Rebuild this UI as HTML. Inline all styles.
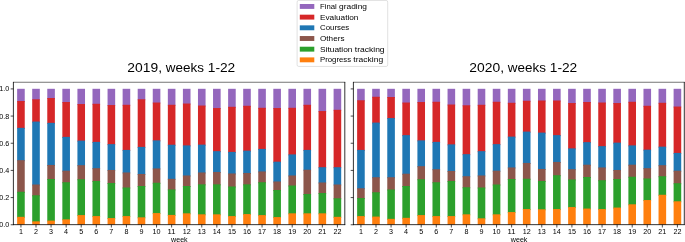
<!DOCTYPE html>
<html><head><meta charset="utf-8"><title>chart</title>
<style>
html,body{margin:0;padding:0;background:#fff;}
body{width:685px;height:242px;overflow:hidden;}
svg{display:block;font-family:"Liberation Sans",sans-serif;will-change:transform;opacity:0.999;}
text{fill:#000;}
</style></head><body>
<svg width="685" height="242" viewBox="0 0 685 242">
<rect x="0" y="0" width="685" height="242" fill="#ffffff"/>
<rect x="17.14" y="88.80" width="7.6" height="13.23" fill="#9467bd"/>
<rect x="17.14" y="101.03" width="7.6" height="27.82" fill="#d62728"/>
<rect x="17.14" y="127.85" width="7.6" height="33.33" fill="#1f77b4"/>
<rect x="17.14" y="160.18" width="7.6" height="32.58" fill="#8c564b"/>
<rect x="17.14" y="191.77" width="7.6" height="26.06" fill="#2ca02c"/>
<rect x="17.14" y="216.83" width="7.6" height="7.82" fill="#ff7f0e"/>
<line x1="20.94" y1="224.65" x2="20.94" y2="227.5" stroke="#000" stroke-width="0.7"/>
<text x="18.93" y="234.20" font-size="7.0" textLength="4.01" lengthAdjust="spacingAndGlyphs">1</text>
<rect x="32.21" y="88.80" width="7.6" height="11.48" fill="#9467bd"/>
<rect x="32.21" y="99.28" width="7.6" height="23.31" fill="#d62728"/>
<rect x="32.21" y="121.58" width="7.6" height="63.91" fill="#1f77b4"/>
<rect x="32.21" y="184.50" width="7.6" height="11.78" fill="#8c564b"/>
<rect x="32.21" y="195.27" width="7.6" height="27.07" fill="#2ca02c"/>
<rect x="32.21" y="221.34" width="7.6" height="3.31" fill="#ff7f0e"/>
<line x1="36.01" y1="224.65" x2="36.01" y2="227.5" stroke="#000" stroke-width="0.7"/>
<text x="34.00" y="234.20" font-size="7.0" textLength="4.01" lengthAdjust="spacingAndGlyphs">2</text>
<rect x="47.27" y="88.80" width="7.6" height="10.22" fill="#9467bd"/>
<rect x="47.27" y="98.02" width="7.6" height="25.81" fill="#d62728"/>
<rect x="47.27" y="122.84" width="7.6" height="43.11" fill="#1f77b4"/>
<rect x="47.27" y="164.95" width="7.6" height="15.04" fill="#8c564b"/>
<rect x="47.27" y="178.98" width="7.6" height="42.61" fill="#2ca02c"/>
<rect x="47.27" y="220.59" width="7.6" height="4.06" fill="#ff7f0e"/>
<line x1="51.07" y1="224.65" x2="51.07" y2="227.5" stroke="#000" stroke-width="0.7"/>
<text x="49.07" y="234.20" font-size="7.0" textLength="4.01" lengthAdjust="spacingAndGlyphs">3</text>
<rect x="62.35" y="88.80" width="7.6" height="14.23" fill="#9467bd"/>
<rect x="62.35" y="102.03" width="7.6" height="35.84" fill="#d62728"/>
<rect x="62.35" y="136.87" width="7.6" height="34.84" fill="#1f77b4"/>
<rect x="62.35" y="170.71" width="7.6" height="12.53" fill="#8c564b"/>
<rect x="62.35" y="182.24" width="7.6" height="38.10" fill="#2ca02c"/>
<rect x="62.35" y="219.34" width="7.6" height="5.31" fill="#ff7f0e"/>
<line x1="66.15" y1="224.65" x2="66.15" y2="227.5" stroke="#000" stroke-width="0.7"/>
<text x="64.14" y="234.20" font-size="7.0" textLength="4.01" lengthAdjust="spacingAndGlyphs">4</text>
<rect x="77.42" y="88.80" width="7.6" height="16.24" fill="#9467bd"/>
<rect x="77.42" y="104.04" width="7.6" height="37.59" fill="#d62728"/>
<rect x="77.42" y="140.63" width="7.6" height="25.56" fill="#1f77b4"/>
<rect x="77.42" y="165.20" width="7.6" height="15.04" fill="#8c564b"/>
<rect x="77.42" y="179.23" width="7.6" height="36.84" fill="#2ca02c"/>
<rect x="77.42" y="215.08" width="7.6" height="9.57" fill="#ff7f0e"/>
<line x1="81.22" y1="224.65" x2="81.22" y2="227.5" stroke="#000" stroke-width="0.7"/>
<text x="79.21" y="234.20" font-size="7.0" textLength="4.01" lengthAdjust="spacingAndGlyphs">5</text>
<rect x="92.49" y="88.80" width="7.6" height="15.99" fill="#9467bd"/>
<rect x="92.49" y="103.79" width="7.6" height="39.10" fill="#d62728"/>
<rect x="92.49" y="141.89" width="7.6" height="27.32" fill="#1f77b4"/>
<rect x="92.49" y="168.20" width="7.6" height="13.78" fill="#8c564b"/>
<rect x="92.49" y="180.99" width="7.6" height="36.09" fill="#2ca02c"/>
<rect x="92.49" y="216.08" width="7.6" height="8.57" fill="#ff7f0e"/>
<line x1="96.29" y1="224.65" x2="96.29" y2="227.5" stroke="#000" stroke-width="0.7"/>
<text x="94.28" y="234.20" font-size="7.0" textLength="4.01" lengthAdjust="spacingAndGlyphs">6</text>
<rect x="107.56" y="88.80" width="7.6" height="17.24" fill="#9467bd"/>
<rect x="107.56" y="105.04" width="7.6" height="40.10" fill="#d62728"/>
<rect x="107.56" y="144.14" width="7.6" height="26.82" fill="#1f77b4"/>
<rect x="107.56" y="169.96" width="7.6" height="14.03" fill="#8c564b"/>
<rect x="107.56" y="182.99" width="7.6" height="36.09" fill="#2ca02c"/>
<rect x="107.56" y="218.08" width="7.6" height="6.57" fill="#ff7f0e"/>
<line x1="111.36" y1="224.65" x2="111.36" y2="227.5" stroke="#000" stroke-width="0.7"/>
<text x="109.35" y="234.20" font-size="7.0" textLength="4.01" lengthAdjust="spacingAndGlyphs">7</text>
<rect x="122.63" y="88.80" width="7.6" height="16.99" fill="#9467bd"/>
<rect x="122.63" y="104.79" width="7.6" height="46.12" fill="#d62728"/>
<rect x="122.63" y="149.91" width="7.6" height="23.56" fill="#1f77b4"/>
<rect x="122.63" y="172.47" width="7.6" height="16.04" fill="#8c564b"/>
<rect x="122.63" y="187.50" width="7.6" height="29.57" fill="#2ca02c"/>
<rect x="122.63" y="216.08" width="7.6" height="8.57" fill="#ff7f0e"/>
<line x1="126.43" y1="224.65" x2="126.43" y2="227.5" stroke="#000" stroke-width="0.7"/>
<text x="124.42" y="234.20" font-size="7.0" textLength="4.01" lengthAdjust="spacingAndGlyphs">8</text>
<rect x="137.69" y="88.80" width="7.6" height="11.48" fill="#9467bd"/>
<rect x="137.69" y="99.28" width="7.6" height="48.62" fill="#d62728"/>
<rect x="137.69" y="146.90" width="7.6" height="28.07" fill="#1f77b4"/>
<rect x="137.69" y="173.97" width="7.6" height="13.03" fill="#8c564b"/>
<rect x="137.69" y="186.00" width="7.6" height="32.33" fill="#2ca02c"/>
<rect x="137.69" y="217.33" width="7.6" height="7.32" fill="#ff7f0e"/>
<line x1="141.50" y1="224.65" x2="141.50" y2="227.5" stroke="#000" stroke-width="0.7"/>
<text x="139.49" y="234.20" font-size="7.0" textLength="4.01" lengthAdjust="spacingAndGlyphs">9</text>
<rect x="152.76" y="88.80" width="7.6" height="14.74" fill="#9467bd"/>
<rect x="152.76" y="102.54" width="7.6" height="38.85" fill="#d62728"/>
<rect x="152.76" y="140.38" width="7.6" height="29.07" fill="#1f77b4"/>
<rect x="152.76" y="168.46" width="7.6" height="15.29" fill="#8c564b"/>
<rect x="152.76" y="182.74" width="7.6" height="31.33" fill="#2ca02c"/>
<rect x="152.76" y="213.07" width="7.6" height="11.58" fill="#ff7f0e"/>
<line x1="156.56" y1="224.65" x2="156.56" y2="227.5" stroke="#000" stroke-width="0.7"/>
<text x="152.56" y="234.20" font-size="7.0" textLength="8.02" lengthAdjust="spacingAndGlyphs">10</text>
<rect x="167.84" y="88.80" width="7.6" height="16.99" fill="#9467bd"/>
<rect x="167.84" y="104.79" width="7.6" height="40.95" fill="#d62728"/>
<rect x="167.84" y="144.74" width="7.6" height="35.09" fill="#1f77b4"/>
<rect x="167.84" y="178.83" width="7.6" height="11.63" fill="#8c564b"/>
<rect x="167.84" y="189.46" width="7.6" height="26.47" fill="#2ca02c"/>
<rect x="167.84" y="214.92" width="7.6" height="9.73" fill="#ff7f0e"/>
<line x1="171.64" y1="224.65" x2="171.64" y2="227.5" stroke="#000" stroke-width="0.7"/>
<text x="167.63" y="234.20" font-size="7.0" textLength="8.02" lengthAdjust="spacingAndGlyphs">11</text>
<rect x="182.91" y="88.80" width="7.6" height="15.74" fill="#9467bd"/>
<rect x="182.91" y="103.54" width="7.6" height="42.86" fill="#d62728"/>
<rect x="182.91" y="145.40" width="7.6" height="31.08" fill="#1f77b4"/>
<rect x="182.91" y="175.47" width="7.6" height="11.53" fill="#8c564b"/>
<rect x="182.91" y="186.00" width="7.6" height="28.32" fill="#2ca02c"/>
<rect x="182.91" y="213.32" width="7.6" height="11.33" fill="#ff7f0e"/>
<line x1="186.71" y1="224.65" x2="186.71" y2="227.5" stroke="#000" stroke-width="0.7"/>
<text x="182.70" y="234.20" font-size="7.0" textLength="8.02" lengthAdjust="spacingAndGlyphs">12</text>
<rect x="197.97" y="88.80" width="7.6" height="17.74" fill="#9467bd"/>
<rect x="197.97" y="105.54" width="7.6" height="40.10" fill="#d62728"/>
<rect x="197.97" y="144.64" width="7.6" height="28.82" fill="#1f77b4"/>
<rect x="197.97" y="172.47" width="7.6" height="12.88" fill="#8c564b"/>
<rect x="197.97" y="184.35" width="7.6" height="30.98" fill="#2ca02c"/>
<rect x="197.97" y="214.32" width="7.6" height="10.33" fill="#ff7f0e"/>
<line x1="201.78" y1="224.65" x2="201.78" y2="227.5" stroke="#000" stroke-width="0.7"/>
<text x="197.77" y="234.20" font-size="7.0" textLength="8.02" lengthAdjust="spacingAndGlyphs">13</text>
<rect x="213.04" y="88.80" width="7.6" height="20.25" fill="#9467bd"/>
<rect x="213.04" y="108.05" width="7.6" height="44.11" fill="#d62728"/>
<rect x="213.04" y="151.16" width="7.6" height="21.80" fill="#1f77b4"/>
<rect x="213.04" y="171.96" width="7.6" height="13.38" fill="#8c564b"/>
<rect x="213.04" y="184.35" width="7.6" height="30.98" fill="#2ca02c"/>
<rect x="213.04" y="214.32" width="7.6" height="10.33" fill="#ff7f0e"/>
<line x1="216.84" y1="224.65" x2="216.84" y2="227.5" stroke="#000" stroke-width="0.7"/>
<text x="212.84" y="234.20" font-size="7.0" textLength="8.02" lengthAdjust="spacingAndGlyphs">14</text>
<rect x="228.12" y="88.80" width="7.6" height="19.00" fill="#9467bd"/>
<rect x="228.12" y="106.80" width="7.6" height="46.12" fill="#d62728"/>
<rect x="228.12" y="151.91" width="7.6" height="22.56" fill="#1f77b4"/>
<rect x="228.12" y="173.47" width="7.6" height="14.03" fill="#8c564b"/>
<rect x="228.12" y="186.50" width="7.6" height="30.58" fill="#2ca02c"/>
<rect x="228.12" y="216.08" width="7.6" height="8.57" fill="#ff7f0e"/>
<line x1="231.92" y1="224.65" x2="231.92" y2="227.5" stroke="#000" stroke-width="0.7"/>
<text x="227.91" y="234.20" font-size="7.0" textLength="8.02" lengthAdjust="spacingAndGlyphs">15</text>
<rect x="243.19" y="88.80" width="7.6" height="17.99" fill="#9467bd"/>
<rect x="243.19" y="105.79" width="7.6" height="45.87" fill="#d62728"/>
<rect x="243.19" y="150.66" width="7.6" height="23.31" fill="#1f77b4"/>
<rect x="243.19" y="172.97" width="7.6" height="12.38" fill="#8c564b"/>
<rect x="243.19" y="184.35" width="7.6" height="30.73" fill="#2ca02c"/>
<rect x="243.19" y="214.07" width="7.6" height="10.58" fill="#ff7f0e"/>
<line x1="246.99" y1="224.65" x2="246.99" y2="227.5" stroke="#000" stroke-width="0.7"/>
<text x="242.98" y="234.20" font-size="7.0" textLength="8.02" lengthAdjust="spacingAndGlyphs">16</text>
<rect x="258.25" y="88.80" width="7.6" height="20.00" fill="#9467bd"/>
<rect x="258.25" y="107.80" width="7.6" height="42.11" fill="#d62728"/>
<rect x="258.25" y="148.90" width="7.6" height="23.56" fill="#1f77b4"/>
<rect x="258.25" y="171.46" width="7.6" height="11.78" fill="#8c564b"/>
<rect x="258.25" y="182.24" width="7.6" height="33.83" fill="#2ca02c"/>
<rect x="258.25" y="215.08" width="7.6" height="9.57" fill="#ff7f0e"/>
<line x1="262.06" y1="224.65" x2="262.06" y2="227.5" stroke="#000" stroke-width="0.7"/>
<text x="258.05" y="234.20" font-size="7.0" textLength="8.02" lengthAdjust="spacingAndGlyphs">17</text>
<rect x="273.32" y="88.80" width="7.6" height="20.25" fill="#9467bd"/>
<rect x="273.32" y="108.05" width="7.6" height="54.64" fill="#d62728"/>
<rect x="273.32" y="161.69" width="7.6" height="20.80" fill="#1f77b4"/>
<rect x="273.32" y="181.49" width="7.6" height="9.52" fill="#8c564b"/>
<rect x="273.32" y="190.01" width="7.6" height="28.07" fill="#2ca02c"/>
<rect x="273.32" y="217.08" width="7.6" height="7.57" fill="#ff7f0e"/>
<line x1="277.12" y1="224.65" x2="277.12" y2="227.5" stroke="#000" stroke-width="0.7"/>
<text x="273.12" y="234.20" font-size="7.0" textLength="8.02" lengthAdjust="spacingAndGlyphs">18</text>
<rect x="288.39" y="88.80" width="7.6" height="20.00" fill="#9467bd"/>
<rect x="288.39" y="107.80" width="7.6" height="47.62" fill="#d62728"/>
<rect x="288.39" y="154.42" width="7.6" height="22.05" fill="#1f77b4"/>
<rect x="288.39" y="175.47" width="7.6" height="11.03" fill="#8c564b"/>
<rect x="288.39" y="185.50" width="7.6" height="28.82" fill="#2ca02c"/>
<rect x="288.39" y="213.32" width="7.6" height="11.33" fill="#ff7f0e"/>
<line x1="292.19" y1="224.65" x2="292.19" y2="227.5" stroke="#000" stroke-width="0.7"/>
<text x="288.19" y="234.20" font-size="7.0" textLength="8.02" lengthAdjust="spacingAndGlyphs">19</text>
<rect x="303.46" y="88.80" width="7.6" height="16.99" fill="#9467bd"/>
<rect x="303.46" y="104.79" width="7.6" height="46.12" fill="#d62728"/>
<rect x="303.46" y="149.91" width="7.6" height="20.80" fill="#1f77b4"/>
<rect x="303.46" y="169.71" width="7.6" height="25.31" fill="#8c564b"/>
<rect x="303.46" y="194.02" width="7.6" height="20.30" fill="#2ca02c"/>
<rect x="303.46" y="213.32" width="7.6" height="11.33" fill="#ff7f0e"/>
<line x1="307.26" y1="224.65" x2="307.26" y2="227.5" stroke="#000" stroke-width="0.7"/>
<text x="303.26" y="234.20" font-size="7.0" textLength="8.02" lengthAdjust="spacingAndGlyphs">20</text>
<rect x="318.53" y="88.80" width="7.6" height="23.26" fill="#9467bd"/>
<rect x="318.53" y="111.06" width="7.6" height="57.14" fill="#d62728"/>
<rect x="318.53" y="167.20" width="7.6" height="16.29" fill="#1f77b4"/>
<rect x="318.53" y="182.49" width="7.6" height="11.53" fill="#8c564b"/>
<rect x="318.53" y="193.02" width="7.6" height="21.30" fill="#2ca02c"/>
<rect x="318.53" y="213.32" width="7.6" height="11.33" fill="#ff7f0e"/>
<line x1="322.33" y1="224.65" x2="322.33" y2="227.5" stroke="#000" stroke-width="0.7"/>
<text x="318.33" y="234.20" font-size="7.0" textLength="8.02" lengthAdjust="spacingAndGlyphs">21</text>
<rect x="333.60" y="88.80" width="7.6" height="22.00" fill="#9467bd"/>
<rect x="333.60" y="109.80" width="7.6" height="58.40" fill="#d62728"/>
<rect x="333.60" y="167.20" width="7.6" height="18.29" fill="#1f77b4"/>
<rect x="333.60" y="184.50" width="7.6" height="14.79" fill="#8c564b"/>
<rect x="333.60" y="198.28" width="7.6" height="19.55" fill="#2ca02c"/>
<rect x="333.60" y="216.83" width="7.6" height="7.82" fill="#ff7f0e"/>
<line x1="337.40" y1="224.65" x2="337.40" y2="227.5" stroke="#000" stroke-width="0.7"/>
<text x="333.40" y="234.20" font-size="7.0" textLength="8.02" lengthAdjust="spacingAndGlyphs">22</text>
<line x1="10.7" y1="224.75" x2="13.4" y2="224.75" stroke="#000" stroke-width="0.7"/>
<text x="-0.72" y="227.25" font-size="7.0" textLength="10.02" lengthAdjust="spacingAndGlyphs">0.0</text>
<line x1="10.7" y1="197.58" x2="13.4" y2="197.58" stroke="#000" stroke-width="0.7"/>
<text x="-0.72" y="200.08" font-size="7.0" textLength="10.02" lengthAdjust="spacingAndGlyphs">0.2</text>
<line x1="10.7" y1="170.41" x2="13.4" y2="170.41" stroke="#000" stroke-width="0.7"/>
<text x="-0.72" y="172.91" font-size="7.0" textLength="10.02" lengthAdjust="spacingAndGlyphs">0.4</text>
<line x1="10.7" y1="143.24" x2="13.4" y2="143.24" stroke="#000" stroke-width="0.7"/>
<text x="-0.72" y="145.74" font-size="7.0" textLength="10.02" lengthAdjust="spacingAndGlyphs">0.6</text>
<line x1="10.7" y1="116.07" x2="13.4" y2="116.07" stroke="#000" stroke-width="0.7"/>
<text x="-0.72" y="118.57" font-size="7.0" textLength="10.02" lengthAdjust="spacingAndGlyphs">0.8</text>
<line x1="10.7" y1="88.90" x2="13.4" y2="88.90" stroke="#000" stroke-width="0.7"/>
<text x="-0.72" y="91.40" font-size="7.0" textLength="10.02" lengthAdjust="spacingAndGlyphs">1.0</text>
<line x1="13.0" y1="82.25" x2="345.2" y2="82.25" stroke="#000" stroke-width="0.55"/>
<line x1="13.0" y1="224.65" x2="345.2" y2="224.65" stroke="#000" stroke-width="0.8"/>
<line x1="13.4" y1="81.98" x2="13.4" y2="225.05" stroke="#000" stroke-width="0.8"/>
<line x1="344.8" y1="81.98" x2="344.8" y2="225.05" stroke="#000" stroke-width="0.8"/>
<text x="127.35" y="71.90" font-size="12.6" textLength="34.64" lengthAdjust="spacingAndGlyphs">2019,</text><text x="165.84" y="71.90" font-size="12.6" textLength="38.10" lengthAdjust="spacingAndGlyphs">weeks</text><text x="207.78" y="71.90" font-size="12.6" textLength="27.46" lengthAdjust="spacingAndGlyphs">1-22</text>
<text x="171.12" y="241.50" font-size="7.0" textLength="16.55" lengthAdjust="spacingAndGlyphs">week</text>
<rect x="357.13" y="88.80" width="7.6" height="12.48" fill="#9467bd"/>
<rect x="357.13" y="100.28" width="7.6" height="50.63" fill="#d62728"/>
<rect x="357.13" y="149.91" width="7.6" height="39.35" fill="#1f77b4"/>
<rect x="357.13" y="188.26" width="7.6" height="10.78" fill="#8c564b"/>
<rect x="357.13" y="198.03" width="7.6" height="19.05" fill="#2ca02c"/>
<rect x="357.13" y="216.08" width="7.6" height="8.57" fill="#ff7f0e"/>
<line x1="360.94" y1="224.65" x2="360.94" y2="227.5" stroke="#000" stroke-width="0.7"/>
<text x="358.93" y="234.20" font-size="7.0" textLength="4.01" lengthAdjust="spacingAndGlyphs">1</text>
<rect x="372.20" y="88.80" width="7.6" height="8.97" fill="#9467bd"/>
<rect x="372.20" y="96.77" width="7.6" height="26.82" fill="#d62728"/>
<rect x="372.20" y="122.59" width="7.6" height="55.64" fill="#1f77b4"/>
<rect x="372.20" y="177.23" width="7.6" height="16.04" fill="#8c564b"/>
<rect x="372.20" y="192.27" width="7.6" height="25.31" fill="#2ca02c"/>
<rect x="372.20" y="216.58" width="7.6" height="8.07" fill="#ff7f0e"/>
<line x1="376.00" y1="224.65" x2="376.00" y2="227.5" stroke="#000" stroke-width="0.7"/>
<text x="374.00" y="234.20" font-size="7.0" textLength="4.01" lengthAdjust="spacingAndGlyphs">2</text>
<rect x="387.27" y="88.80" width="7.6" height="9.22" fill="#9467bd"/>
<rect x="387.27" y="97.02" width="7.6" height="22.05" fill="#d62728"/>
<rect x="387.27" y="118.08" width="7.6" height="60.15" fill="#1f77b4"/>
<rect x="387.27" y="177.23" width="7.6" height="13.28" fill="#8c564b"/>
<rect x="387.27" y="189.51" width="7.6" height="30.33" fill="#2ca02c"/>
<rect x="387.27" y="218.84" width="7.6" height="5.81" fill="#ff7f0e"/>
<line x1="391.07" y1="224.65" x2="391.07" y2="227.5" stroke="#000" stroke-width="0.7"/>
<text x="389.07" y="234.20" font-size="7.0" textLength="4.01" lengthAdjust="spacingAndGlyphs">3</text>
<rect x="402.34" y="88.80" width="7.6" height="14.74" fill="#9467bd"/>
<rect x="402.34" y="102.54" width="7.6" height="33.58" fill="#d62728"/>
<rect x="402.34" y="135.12" width="7.6" height="39.60" fill="#1f77b4"/>
<rect x="402.34" y="173.72" width="7.6" height="13.28" fill="#8c564b"/>
<rect x="402.34" y="186.00" width="7.6" height="32.83" fill="#2ca02c"/>
<rect x="402.34" y="217.83" width="7.6" height="6.82" fill="#ff7f0e"/>
<line x1="406.14" y1="224.65" x2="406.14" y2="227.5" stroke="#000" stroke-width="0.7"/>
<text x="404.14" y="234.20" font-size="7.0" textLength="4.01" lengthAdjust="spacingAndGlyphs">4</text>
<rect x="417.41" y="88.80" width="7.6" height="14.23" fill="#9467bd"/>
<rect x="417.41" y="102.03" width="7.6" height="39.35" fill="#d62728"/>
<rect x="417.41" y="140.38" width="7.6" height="26.82" fill="#1f77b4"/>
<rect x="417.41" y="166.20" width="7.6" height="14.03" fill="#8c564b"/>
<rect x="417.41" y="179.23" width="7.6" height="36.84" fill="#2ca02c"/>
<rect x="417.41" y="215.08" width="7.6" height="9.57" fill="#ff7f0e"/>
<line x1="421.21" y1="224.65" x2="421.21" y2="227.5" stroke="#000" stroke-width="0.7"/>
<text x="419.21" y="234.20" font-size="7.0" textLength="4.01" lengthAdjust="spacingAndGlyphs">5</text>
<rect x="432.48" y="88.80" width="7.6" height="13.98" fill="#9467bd"/>
<rect x="432.48" y="101.78" width="7.6" height="41.10" fill="#d62728"/>
<rect x="432.48" y="141.89" width="7.6" height="28.32" fill="#1f77b4"/>
<rect x="432.48" y="169.21" width="7.6" height="14.03" fill="#8c564b"/>
<rect x="432.48" y="182.24" width="7.6" height="34.84" fill="#2ca02c"/>
<rect x="432.48" y="216.08" width="7.6" height="8.57" fill="#ff7f0e"/>
<line x1="436.28" y1="224.65" x2="436.28" y2="227.5" stroke="#000" stroke-width="0.7"/>
<text x="434.28" y="234.20" font-size="7.0" textLength="4.01" lengthAdjust="spacingAndGlyphs">6</text>
<rect x="447.55" y="88.80" width="7.6" height="16.74" fill="#9467bd"/>
<rect x="447.55" y="104.54" width="7.6" height="40.85" fill="#d62728"/>
<rect x="447.55" y="144.39" width="7.6" height="27.57" fill="#1f77b4"/>
<rect x="447.55" y="170.96" width="7.6" height="11.03" fill="#8c564b"/>
<rect x="447.55" y="180.99" width="7.6" height="36.09" fill="#2ca02c"/>
<rect x="447.55" y="216.08" width="7.6" height="8.57" fill="#ff7f0e"/>
<line x1="451.35" y1="224.65" x2="451.35" y2="227.5" stroke="#000" stroke-width="0.7"/>
<text x="449.35" y="234.20" font-size="7.0" textLength="4.01" lengthAdjust="spacingAndGlyphs">7</text>
<rect x="462.62" y="88.80" width="7.6" height="17.49" fill="#9467bd"/>
<rect x="462.62" y="105.29" width="7.6" height="49.88" fill="#d62728"/>
<rect x="462.62" y="154.17" width="7.6" height="23.06" fill="#1f77b4"/>
<rect x="462.62" y="176.23" width="7.6" height="12.03" fill="#8c564b"/>
<rect x="462.62" y="187.25" width="7.6" height="28.07" fill="#2ca02c"/>
<rect x="462.62" y="214.32" width="7.6" height="10.33" fill="#ff7f0e"/>
<line x1="466.42" y1="224.65" x2="466.42" y2="227.5" stroke="#000" stroke-width="0.7"/>
<text x="464.42" y="234.20" font-size="7.0" textLength="4.01" lengthAdjust="spacingAndGlyphs">8</text>
<rect x="477.69" y="88.80" width="7.6" height="16.99" fill="#9467bd"/>
<rect x="477.69" y="104.79" width="7.6" height="47.37" fill="#d62728"/>
<rect x="477.69" y="151.16" width="7.6" height="25.31" fill="#1f77b4"/>
<rect x="477.69" y="175.47" width="7.6" height="13.03" fill="#8c564b"/>
<rect x="477.69" y="187.50" width="7.6" height="31.83" fill="#2ca02c"/>
<rect x="477.69" y="218.33" width="7.6" height="6.32" fill="#ff7f0e"/>
<line x1="481.50" y1="224.65" x2="481.50" y2="227.5" stroke="#000" stroke-width="0.7"/>
<text x="479.49" y="234.20" font-size="7.0" textLength="4.01" lengthAdjust="spacingAndGlyphs">9</text>
<rect x="492.76" y="88.80" width="7.6" height="13.98" fill="#9467bd"/>
<rect x="492.76" y="101.78" width="7.6" height="43.36" fill="#d62728"/>
<rect x="492.76" y="144.14" width="7.6" height="27.57" fill="#1f77b4"/>
<rect x="492.76" y="170.71" width="7.6" height="14.79" fill="#8c564b"/>
<rect x="492.76" y="184.50" width="7.6" height="30.83" fill="#2ca02c"/>
<rect x="492.76" y="214.32" width="7.6" height="10.33" fill="#ff7f0e"/>
<line x1="496.56" y1="224.65" x2="496.56" y2="227.5" stroke="#000" stroke-width="0.7"/>
<text x="492.56" y="234.20" font-size="7.0" textLength="8.02" lengthAdjust="spacingAndGlyphs">10</text>
<rect x="507.83" y="88.80" width="7.6" height="14.99" fill="#9467bd"/>
<rect x="507.83" y="102.79" width="7.6" height="34.84" fill="#d62728"/>
<rect x="507.83" y="136.62" width="7.6" height="31.83" fill="#1f77b4"/>
<rect x="507.83" y="167.45" width="7.6" height="12.53" fill="#8c564b"/>
<rect x="507.83" y="178.98" width="7.6" height="34.09" fill="#2ca02c"/>
<rect x="507.83" y="212.07" width="7.6" height="12.58" fill="#ff7f0e"/>
<line x1="511.63" y1="224.65" x2="511.63" y2="227.5" stroke="#000" stroke-width="0.7"/>
<text x="507.63" y="234.20" font-size="7.0" textLength="8.02" lengthAdjust="spacingAndGlyphs">11</text>
<rect x="522.90" y="88.80" width="7.6" height="12.98" fill="#9467bd"/>
<rect x="522.90" y="100.78" width="7.6" height="31.83" fill="#d62728"/>
<rect x="522.90" y="131.61" width="7.6" height="32.33" fill="#1f77b4"/>
<rect x="522.90" y="162.94" width="7.6" height="16.79" fill="#8c564b"/>
<rect x="522.90" y="178.73" width="7.6" height="31.33" fill="#2ca02c"/>
<rect x="522.90" y="209.06" width="7.6" height="15.59" fill="#ff7f0e"/>
<line x1="526.70" y1="224.65" x2="526.70" y2="227.5" stroke="#000" stroke-width="0.7"/>
<text x="522.70" y="234.20" font-size="7.0" textLength="8.02" lengthAdjust="spacingAndGlyphs">12</text>
<rect x="537.98" y="88.80" width="7.6" height="12.73" fill="#9467bd"/>
<rect x="537.98" y="100.53" width="7.6" height="33.08" fill="#d62728"/>
<rect x="537.98" y="132.61" width="7.6" height="37.34" fill="#1f77b4"/>
<rect x="537.98" y="168.96" width="7.6" height="13.03" fill="#8c564b"/>
<rect x="537.98" y="180.99" width="7.6" height="29.32" fill="#2ca02c"/>
<rect x="537.98" y="209.31" width="7.6" height="15.34" fill="#ff7f0e"/>
<line x1="541.77" y1="224.65" x2="541.77" y2="227.5" stroke="#000" stroke-width="0.7"/>
<text x="537.77" y="234.20" font-size="7.0" textLength="8.02" lengthAdjust="spacingAndGlyphs">13</text>
<rect x="553.05" y="88.80" width="7.6" height="12.73" fill="#9467bd"/>
<rect x="553.05" y="100.53" width="7.6" height="35.59" fill="#d62728"/>
<rect x="553.05" y="135.12" width="7.6" height="27.82" fill="#1f77b4"/>
<rect x="553.05" y="161.94" width="7.6" height="14.28" fill="#8c564b"/>
<rect x="553.05" y="175.22" width="7.6" height="34.84" fill="#2ca02c"/>
<rect x="553.05" y="209.06" width="7.6" height="15.59" fill="#ff7f0e"/>
<line x1="556.85" y1="224.65" x2="556.85" y2="227.5" stroke="#000" stroke-width="0.7"/>
<text x="552.84" y="234.20" font-size="7.0" textLength="8.02" lengthAdjust="spacingAndGlyphs">14</text>
<rect x="568.12" y="88.80" width="7.6" height="15.24" fill="#9467bd"/>
<rect x="568.12" y="103.04" width="7.6" height="46.37" fill="#d62728"/>
<rect x="568.12" y="148.40" width="7.6" height="21.80" fill="#1f77b4"/>
<rect x="568.12" y="169.21" width="7.6" height="11.28" fill="#8c564b"/>
<rect x="568.12" y="179.48" width="7.6" height="28.57" fill="#2ca02c"/>
<rect x="568.12" y="207.05" width="7.6" height="17.60" fill="#ff7f0e"/>
<line x1="571.91" y1="224.65" x2="571.91" y2="227.5" stroke="#000" stroke-width="0.7"/>
<text x="567.91" y="234.20" font-size="7.0" textLength="8.02" lengthAdjust="spacingAndGlyphs">15</text>
<rect x="583.19" y="88.80" width="7.6" height="14.23" fill="#9467bd"/>
<rect x="583.19" y="102.03" width="7.6" height="41.10" fill="#d62728"/>
<rect x="583.19" y="142.14" width="7.6" height="23.56" fill="#1f77b4"/>
<rect x="583.19" y="164.70" width="7.6" height="13.28" fill="#8c564b"/>
<rect x="583.19" y="176.98" width="7.6" height="32.58" fill="#2ca02c"/>
<rect x="583.19" y="208.56" width="7.6" height="16.09" fill="#ff7f0e"/>
<line x1="586.99" y1="224.65" x2="586.99" y2="227.5" stroke="#000" stroke-width="0.7"/>
<text x="582.98" y="234.20" font-size="7.0" textLength="8.02" lengthAdjust="spacingAndGlyphs">16</text>
<rect x="598.25" y="88.80" width="7.6" height="14.74" fill="#9467bd"/>
<rect x="598.25" y="102.54" width="7.6" height="44.61" fill="#d62728"/>
<rect x="598.25" y="146.15" width="7.6" height="22.30" fill="#1f77b4"/>
<rect x="598.25" y="167.45" width="7.6" height="13.78" fill="#8c564b"/>
<rect x="598.25" y="180.24" width="7.6" height="29.82" fill="#2ca02c"/>
<rect x="598.25" y="209.06" width="7.6" height="15.59" fill="#ff7f0e"/>
<line x1="602.05" y1="224.65" x2="602.05" y2="227.5" stroke="#000" stroke-width="0.7"/>
<text x="598.05" y="234.20" font-size="7.0" textLength="8.02" lengthAdjust="spacingAndGlyphs">17</text>
<rect x="613.33" y="88.80" width="7.6" height="15.24" fill="#9467bd"/>
<rect x="613.33" y="103.04" width="7.6" height="40.60" fill="#d62728"/>
<rect x="613.33" y="142.64" width="7.6" height="28.32" fill="#1f77b4"/>
<rect x="613.33" y="169.96" width="7.6" height="10.02" fill="#8c564b"/>
<rect x="613.33" y="178.98" width="7.6" height="29.57" fill="#2ca02c"/>
<rect x="613.33" y="207.56" width="7.6" height="17.09" fill="#ff7f0e"/>
<line x1="617.12" y1="224.65" x2="617.12" y2="227.5" stroke="#000" stroke-width="0.7"/>
<text x="613.12" y="234.20" font-size="7.0" textLength="8.02" lengthAdjust="spacingAndGlyphs">18</text>
<rect x="628.39" y="88.80" width="7.6" height="13.98" fill="#9467bd"/>
<rect x="628.39" y="101.78" width="7.6" height="44.61" fill="#d62728"/>
<rect x="628.39" y="145.40" width="7.6" height="20.30" fill="#1f77b4"/>
<rect x="628.39" y="164.70" width="7.6" height="13.03" fill="#8c564b"/>
<rect x="628.39" y="176.73" width="7.6" height="28.57" fill="#2ca02c"/>
<rect x="628.39" y="204.30" width="7.6" height="20.35" fill="#ff7f0e"/>
<line x1="632.19" y1="224.65" x2="632.19" y2="227.5" stroke="#000" stroke-width="0.7"/>
<text x="628.19" y="234.20" font-size="7.0" textLength="8.02" lengthAdjust="spacingAndGlyphs">19</text>
<rect x="643.47" y="88.80" width="7.6" height="17.99" fill="#9467bd"/>
<rect x="643.47" y="105.79" width="7.6" height="44.86" fill="#d62728"/>
<rect x="643.47" y="149.66" width="7.6" height="19.55" fill="#1f77b4"/>
<rect x="643.47" y="168.20" width="7.6" height="11.28" fill="#8c564b"/>
<rect x="643.47" y="178.48" width="7.6" height="22.56" fill="#2ca02c"/>
<rect x="643.47" y="200.04" width="7.6" height="24.61" fill="#ff7f0e"/>
<line x1="647.26" y1="224.65" x2="647.26" y2="227.5" stroke="#000" stroke-width="0.7"/>
<text x="643.26" y="234.20" font-size="7.0" textLength="8.02" lengthAdjust="spacingAndGlyphs">20</text>
<rect x="658.54" y="88.80" width="7.6" height="14.99" fill="#9467bd"/>
<rect x="658.54" y="102.79" width="7.6" height="44.86" fill="#d62728"/>
<rect x="658.54" y="146.65" width="7.6" height="19.55" fill="#1f77b4"/>
<rect x="658.54" y="165.20" width="7.6" height="12.03" fill="#8c564b"/>
<rect x="658.54" y="176.23" width="7.6" height="19.55" fill="#2ca02c"/>
<rect x="658.54" y="194.77" width="7.6" height="29.88" fill="#ff7f0e"/>
<line x1="662.34" y1="224.65" x2="662.34" y2="227.5" stroke="#000" stroke-width="0.7"/>
<text x="658.33" y="234.20" font-size="7.0" textLength="8.02" lengthAdjust="spacingAndGlyphs">21</text>
<rect x="673.61" y="88.80" width="7.6" height="18.75" fill="#9467bd"/>
<rect x="673.61" y="106.55" width="7.6" height="47.37" fill="#d62728"/>
<rect x="673.61" y="152.92" width="7.6" height="18.80" fill="#1f77b4"/>
<rect x="673.61" y="170.71" width="7.6" height="13.53" fill="#8c564b"/>
<rect x="673.61" y="183.24" width="7.6" height="19.05" fill="#2ca02c"/>
<rect x="673.61" y="201.29" width="7.6" height="23.36" fill="#ff7f0e"/>
<line x1="677.40" y1="224.65" x2="677.40" y2="227.5" stroke="#000" stroke-width="0.7"/>
<text x="673.40" y="234.20" font-size="7.0" textLength="8.02" lengthAdjust="spacingAndGlyphs">22</text>
<line x1="350.7" y1="224.75" x2="353.4" y2="224.75" stroke="#000" stroke-width="0.7"/>
<line x1="350.7" y1="197.58" x2="353.4" y2="197.58" stroke="#000" stroke-width="0.7"/>
<line x1="350.7" y1="170.41" x2="353.4" y2="170.41" stroke="#000" stroke-width="0.7"/>
<line x1="350.7" y1="143.24" x2="353.4" y2="143.24" stroke="#000" stroke-width="0.7"/>
<line x1="350.7" y1="116.07" x2="353.4" y2="116.07" stroke="#000" stroke-width="0.7"/>
<line x1="350.7" y1="88.90" x2="353.4" y2="88.90" stroke="#000" stroke-width="0.7"/>
<line x1="353.0" y1="82.25" x2="684.6999999999999" y2="82.25" stroke="#000" stroke-width="0.55"/>
<line x1="353.0" y1="224.65" x2="684.6999999999999" y2="224.65" stroke="#000" stroke-width="0.8"/>
<line x1="353.4" y1="81.98" x2="353.4" y2="225.05" stroke="#000" stroke-width="0.8"/>
<line x1="684.3" y1="81.98" x2="684.3" y2="225.05" stroke="#000" stroke-width="0.8"/>
<text x="469.35" y="71.90" font-size="12.6" textLength="34.64" lengthAdjust="spacingAndGlyphs">2020,</text><text x="507.84" y="71.90" font-size="12.6" textLength="38.10" lengthAdjust="spacingAndGlyphs">weeks</text><text x="549.78" y="71.90" font-size="12.6" textLength="27.46" lengthAdjust="spacingAndGlyphs">1-22</text>
<text x="510.87" y="241.50" font-size="7.0" textLength="16.55" lengthAdjust="spacingAndGlyphs">week</text>
<rect x="297.1" y="0.45" width="90.6" height="66.0" rx="1.6" ry="1.6" fill="#fff" stroke="#d4d4d4" stroke-width="0.7"/>
<rect x="299.8" y="4.00" width="14.5" height="4.9" fill="#9467bd"/>
<text x="320.00" y="8.90" font-size="7.8" textLength="16.78" lengthAdjust="spacingAndGlyphs">Final</text><text x="339.09" y="8.90" font-size="7.8" textLength="27.95" lengthAdjust="spacingAndGlyphs">grading</text>
<rect x="299.8" y="14.68" width="14.5" height="4.9" fill="#d62728"/>
<text x="320.00" y="19.58" font-size="7.8" textLength="38.41" lengthAdjust="spacingAndGlyphs">Evaluation</text>
<rect x="299.8" y="25.36" width="14.5" height="4.9" fill="#1f77b4"/>
<text x="320.00" y="30.26" font-size="7.8" textLength="29.21" lengthAdjust="spacingAndGlyphs">Courses</text>
<rect x="299.8" y="36.04" width="14.5" height="4.9" fill="#8c564b"/>
<text x="320.00" y="40.94" font-size="7.8" textLength="24.46" lengthAdjust="spacingAndGlyphs">Others</text>
<rect x="299.8" y="46.72" width="14.5" height="4.9" fill="#2ca02c"/>
<text x="320.00" y="51.62" font-size="7.8" textLength="32.52" lengthAdjust="spacingAndGlyphs">Situation</text><text x="354.83" y="51.62" font-size="7.8" textLength="29.78" lengthAdjust="spacingAndGlyphs">tracking</text>
<rect x="299.8" y="57.40" width="14.5" height="4.9" fill="#ff7f0e"/>
<text x="320.00" y="62.30" font-size="7.8" textLength="31.07" lengthAdjust="spacingAndGlyphs">Progress</text><text x="353.38" y="62.30" font-size="7.8" textLength="29.78" lengthAdjust="spacingAndGlyphs">tracking</text>
</svg>
</body></html>
